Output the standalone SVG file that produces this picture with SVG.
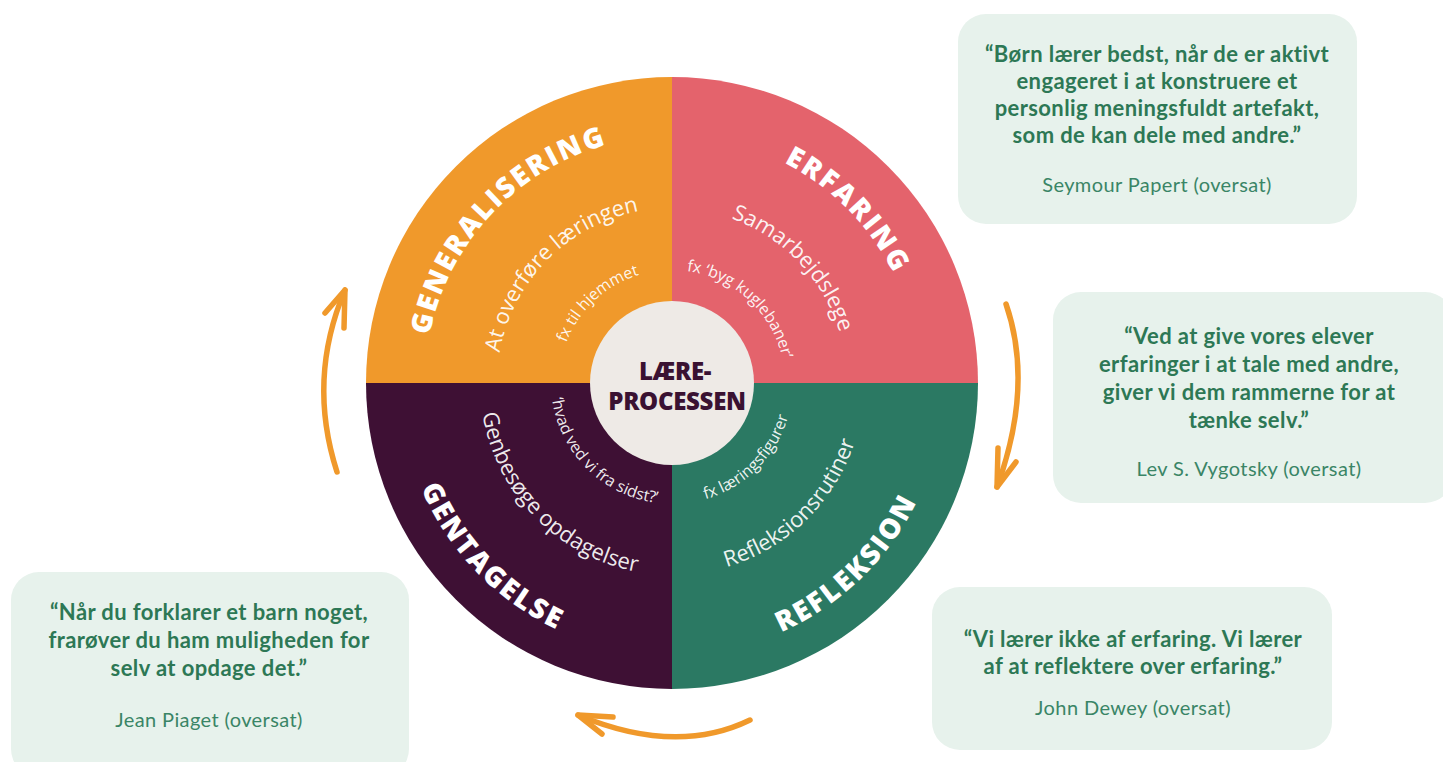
<svg xmlns="http://www.w3.org/2000/svg" xmlns:xlink="http://www.w3.org/1999/xlink" width="1443" height="762" viewBox="0 0 1443 762">
<style>
.head{font-family:"Open Sans","DejaVu Sans",sans-serif;font-weight:800;font-size:28px;letter-spacing:2.2px;fill:#ffffff}
.mid{font-family:"Open Sans","DejaVu Sans",sans-serif;font-weight:400;font-size:22px;fill:#ffffff;fill-opacity:0.93}
.small{font-family:"Open Sans","DejaVu Sans",sans-serif;font-weight:400;font-size:16px;fill:#ffffff;fill-opacity:0.93}
.core{font-family:"Open Sans","DejaVu Sans",sans-serif;font-weight:800;font-size:24px;letter-spacing:-0.3px;fill:#3A1232}
.box{fill:#E7F2EC}
.quote{font-family:Lato,"Liberation Sans",sans-serif;font-weight:700;font-size:22px;letter-spacing:0.4px;fill:#2D7855}
.author{font-family:Lato,"Liberation Sans",sans-serif;font-weight:400;font-size:20px;letter-spacing:0.4px;fill:#3A8566}
.arrow{fill:none;stroke:#F0992B;stroke-width:5.5;stroke-linecap:round;stroke-linejoin:round}
</style>
<defs>
<path id="up247" d="M425,383 A247,247 0 0 1 919,383"/>
<path id="dn272" d="M400,383 A272,272 0 0 0 944,383"/>
<path id="up175" d="M497,383 A175,175 0 0 1 847,383"/>
<path id="dn192" d="M480,383 A192,192 0 0 0 864,383"/>
<path id="up113" d="M559,383 A113,113 0 0 1 785,383"/>
<path id="dn121" d="M551,383 A121,121 0 0 0 793,383"/>
</defs>
<rect width="1443" height="762" fill="#ffffff"/>

<g id="generalisering">
<path d="M672,383 L366,383 A306,306 0 0 1 672,77 Z" fill="#F0992B"/>
<g transform="rotate(-47 672 383)"><text class="head" text-anchor="middle"><textPath xlink:href="#up247" href="#up247" startOffset="50%">GENERALISERING</textPath></text></g>
<g transform="rotate(-45.5 672 383)"><text class="mid" text-anchor="middle"><textPath xlink:href="#up175" href="#up175" startOffset="50%">At overføre læringen</textPath></text></g>
<g transform="rotate(-43 672 383)"><text class="small" text-anchor="middle"><textPath xlink:href="#up113" href="#up113" startOffset="50%">fx til hjemmet</textPath></text></g>
</g>

<g id="erfaring">
<path d="M672,383 L672,77 A306,306 0 0 1 978,383 Z" fill="#E4636C"/>
<g transform="rotate(45.5 672 383)"><text class="head" text-anchor="middle"><textPath xlink:href="#up247" href="#up247" startOffset="50%">ERFARING</textPath></text></g>
<g transform="rotate(46.5 672 383)"><text class="mid" text-anchor="middle"><textPath xlink:href="#up175" href="#up175" startOffset="50%">Samarbejdslege</textPath></text></g>
<g transform="rotate(42.5 672 383)"><text class="small" text-anchor="middle"><textPath xlink:href="#up113" href="#up113" startOffset="50%">fx ‘byg kuglebaner’</textPath></text></g>
</g>

<g id="refleksion">
<path d="M672,383 L978,383 A306,306 0 0 1 672,689 Z" fill="#2B7963"/>
<g transform="rotate(-44 672 383)"><text class="head" text-anchor="middle"><textPath xlink:href="#dn272" href="#dn272" startOffset="50%">REFLEKSION</textPath></text></g>
<g transform="rotate(-44.4 672 383)"><text class="mid" text-anchor="middle"><textPath xlink:href="#dn192" href="#dn192" startOffset="50%">Refleksionsrutiner</textPath></text></g>
<g transform="rotate(-45 672 383)"><text class="small" text-anchor="middle"><textPath xlink:href="#dn121" href="#dn121" startOffset="50%">fx læringsfigurer</textPath></text></g>
</g>

<g id="gentagelse">
<path d="M672,383 L672,689 A306,306 0 0 1 366,383 Z" fill="#3E1034"/>
<g transform="rotate(46 672 383)"><text class="head" text-anchor="middle"><textPath xlink:href="#dn272" href="#dn272" startOffset="50%">GENTAGELSE</textPath></text></g>
<g transform="rotate(45.7 672 383)"><text class="mid" text-anchor="middle"><textPath xlink:href="#dn192" href="#dn192" startOffset="50%">Genbesøge opdagelser</textPath></text></g>
<g transform="rotate(44.8 672 383)"><text class="small" text-anchor="middle"><textPath xlink:href="#dn121" href="#dn121" startOffset="50%">‘hvad ved vi fra sidst?’</textPath></text></g>
</g>

<g id="laereprocessen">
<circle cx="672" cy="383" r="82" fill="#EEEAE6"/>
<text class="core" x="675" y="380" text-anchor="middle">LÆRE-</text>
<text class="core" x="677" y="410" text-anchor="middle">PROCESSEN</text>
</g>

<g id="quote-papert">
<rect class="box" x="958" y="14" width="399" height="210" rx="28"/>
<text class="quote" text-anchor="middle"><tspan x="1157" y="62">“Børn lærer bedst, når de er aktivt</tspan><tspan x="1157" y="89">engageret i at konstruere et</tspan><tspan x="1157" y="116">personlig meningsfuldt  artefakt,</tspan><tspan x="1157" y="143">som de kan dele med andre.”</tspan></text>
<text class="author" x="1157" y="192" text-anchor="middle">Seymour Papert (oversat)</text>
</g>

<g id="quote-vygotsky">
<rect class="box" x="1053" y="292" width="400" height="211" rx="28"/>
<text class="quote" text-anchor="middle"><tspan x="1249" y="344">“Ved at give vores elever</tspan><tspan x="1249" y="372">erfaringer i at tale med andre,</tspan><tspan x="1249" y="400">giver vi dem rammerne for at</tspan><tspan x="1249" y="428">tænke selv.”</tspan></text>
<text class="author" x="1249" y="476" text-anchor="middle">Lev S. Vygotsky (oversat)</text>
</g>

<g id="quote-piaget">
<rect class="box" x="11" y="572" width="398" height="205" rx="28"/>
<text class="quote" text-anchor="middle"><tspan x="209" y="620">“Når du forklarer et barn noget,</tspan><tspan x="209" y="648">frarøver du ham muligheden for</tspan><tspan x="209" y="676">selv at opdage det.”</tspan></text>
<text class="author" x="209" y="727" text-anchor="middle">Jean Piaget (oversat)</text>
</g>

<g id="quote-dewey">
<rect class="box" x="932" y="587" width="400" height="163" rx="28"/>
<text class="quote" text-anchor="middle"><tspan x="1133" y="647">“Vi lærer ikke af erfaring. Vi lærer</tspan><tspan x="1133" y="674">af at reflektere over erfaring.”</tspan></text>
<text class="author" x="1133" y="715" text-anchor="middle">John Dewey (oversat)</text>
</g>

<g id="connectors">
<path class="arrow" d="M1006,304 Q1034,385 997,487"/>
<path class="arrow" d="M998,448 L997,487 L1016,462"/>
<path class="arrow" d="M750,720 Q676,756 578,715"/>
<path class="arrow" d="M613,717 L578,715 L602,734"/>
<path class="arrow" d="M337,472 Q307,379 345,290"/>
<path class="arrow" d="M325,313 L345,290 L344,328"/>
</g>
</svg>
